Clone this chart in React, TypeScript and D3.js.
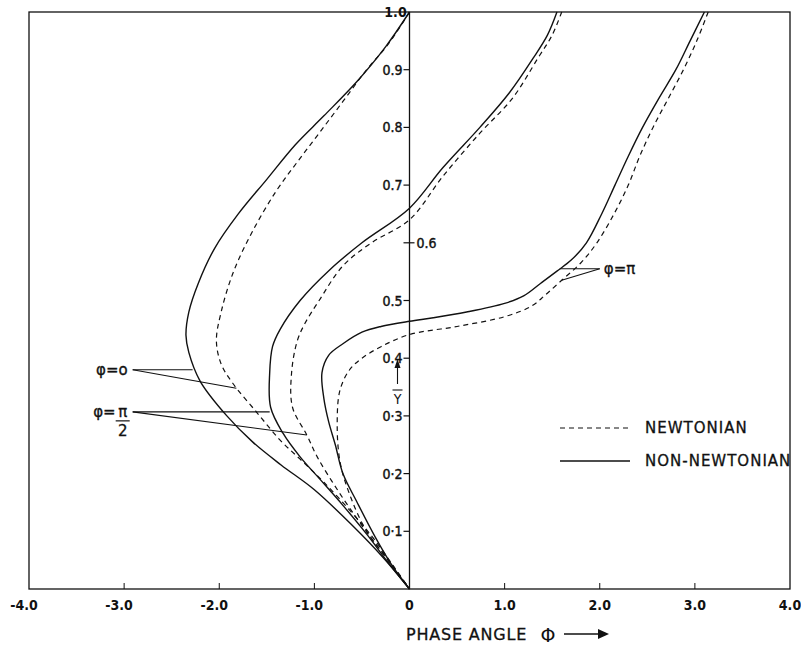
import React, { useEffect, useRef } from "react";
import * as d3 from "d3";

// axis ticks
const xTicks = [-4, -3, -2, -1, 0, 1, 2, 3, 4];
const xTickLabels = ["-4.0", "-3.0", "-2.0", "-1.0", "0", "1.0", "2.0", "3.0", "4.0"];
const yTicks = [0.1, 0.2, 0.3, 0.4, 0.5, 0.6, 0.7, 0.8, 0.9];
const yTickLabels = ["0·1", "0·2", "0·3", "0.4", "0.5", "0.6", "0.7", "0.8", "0.9"];

// phase angle vs Y, [phase, Y]
// phi = 0
const nonNewt0: [number, number][] = [
  [0, 1], [-0.25, 0.94], [-0.55, 0.88], [-0.9, 0.82], [-1.2, 0.77], [-1.5, 0.71],
  [-1.8, 0.65], [-2.05, 0.59], [-2.22, 0.53], [-2.32, 0.48], [-2.35, 0.44], [-2.32, 0.41],
  [-2.2, 0.36], [-1.92, 0.3], [-1.65, 0.255], [-1.35, 0.215], [-1.0, 0.172],
  [-0.6, 0.11], [-0.28, 0.055], [0, 0],
];
const newt0: [number, number][] = [
  [0, 1], [-0.22, 0.945], [-0.45, 0.9], [-0.7, 0.845], [-0.95, 0.79], [-1.18, 0.74],
  [-1.4, 0.69], [-1.65, 0.62], [-1.85, 0.55], [-1.98, 0.48], [-2.03, 0.43], [-1.98, 0.39],
  [-1.86, 0.357], [-1.6, 0.305], [-1.36, 0.258], [-1.15, 0.225], [-0.9, 0.185],
  [-0.62, 0.135], [-0.38, 0.088], [-0.17, 0.04], [0, 0],
];
// phi = pi/2
const nonNewtHalfPi: [number, number][] = [
  [1.55, 1.0], [1.45, 0.96], [1.3, 0.92], [1.05, 0.86], [0.74, 0.8], [0.35, 0.73],
  [0, 0.66], [-0.5, 0.6], [-0.84, 0.553], [-1.15, 0.5], [-1.36, 0.45], [-1.44, 0.42],
  [-1.47, 0.374], [-1.46, 0.315], [-1.33, 0.27], [-1.15, 0.229], [-0.94, 0.19],
  [-0.7, 0.145], [-0.45, 0.095], [-0.22, 0.045], [0, 0],
];
const newtHalfPi: [number, number][] = [
  [1.6, 1.0], [1.5, 0.96], [1.35, 0.92], [1.08, 0.85], [0.74, 0.79], [0.35, 0.715],
  [0, 0.64], [-0.4, 0.6], [-0.7, 0.56], [-0.95, 0.5], [-1.1, 0.46], [-1.18, 0.43],
  [-1.24, 0.374], [-1.23, 0.315], [-1.08, 0.267], [-0.97, 0.229], [-0.75, 0.17],
  [-0.5, 0.11], [-0.25, 0.055], [0, 0],
];
// phi = pi
const nonNewtPi: [number, number][] = [
  [3.1, 1.0], [2.95, 0.95], [2.8, 0.9], [2.62, 0.85], [2.45, 0.8], [2.3, 0.75],
  [2.16, 0.7], [2.02, 0.65], [1.86, 0.6], [1.7, 0.57], [1.55, 0.551],
  [1.38, 0.53], [1.2, 0.508], [1.0, 0.495], [0.6, 0.48], [0.25, 0.47], [0, 0.464],
  [-0.3, 0.455], [-0.5, 0.445], [-0.7, 0.425], [-0.85, 0.405], [-0.92, 0.375],
  [-0.9, 0.33], [-0.85, 0.29], [-0.78, 0.25], [-0.7, 0.2], [-0.55, 0.15],
  [-0.36, 0.09], [-0.18, 0.04], [0, 0],
];
const newtPi: [number, number][] = [
  [3.14, 1.0], [3.02, 0.95], [2.88, 0.9], [2.72, 0.85], [2.56, 0.8], [2.42, 0.75],
  [2.3, 0.7], [2.15, 0.65], [1.97, 0.6], [1.8, 0.565], [1.6, 0.535],
  [1.43, 0.51], [1.28, 0.49], [1.0, 0.472], [0.5, 0.455], [0, 0.441], [-0.3, 0.42],
  [-0.5, 0.4], [-0.63, 0.38], [-0.73, 0.345], [-0.76, 0.29], [-0.73, 0.22],
  [-0.62, 0.16], [-0.45, 0.1], [-0.22, 0.05], [0, 0],
];

// label pointers: tip, end on solid, end on dashed
const pointers0 = [[-2.91, 0.38], [-2.28, 0.38], [-1.82, 0.348]];
const pointersHalfPi = [[-2.91, 0.307], [-1.47, 0.307], [-1.08, 0.267]];
const pointersPi = [[2.0, 0.555], [1.58, 0.555], [1.6, 0.535]];

const W = 801;
const H = 651;
const font = "'DejaVu Sans Condensed', 'DejaVu Sans', sans-serif";
const wideFont = "'DejaVu Sans', sans-serif";

function Chart() {
  const ref = useRef<SVGSVGElement>(null);

  useEffect(() => {
    const svg = d3.select(ref.current);
    svg.selectAll("*").remove();

    const x = d3.scaleLinear().domain([-4, 4]).range([29, 790]);
    const y = d3.scaleLinear().domain([0, 1]).range([589, 12]);

    const g = svg.append("g").attr("fill", "none").attr("stroke", "#111");

    // frame
    g.append("rect")
      .attr("x", x(-4)).attr("y", y(1))
      .attr("width", x(4) - x(-4)).attr("height", y(0) - y(1))
      .attr("stroke-width", 1.3);

    // center axis
    g.append("line")
      .attr("x1", x(0)).attr("x2", x(0))
      .attr("y1", y(0)).attr("y2", y(1))
      .attr("stroke-width", 1.3);

    // bottom ticks
    g.selectAll(".xt").data(xTicks.filter(d => d > -4 && d < 4 && d !== 0)).enter()
      .append("line")
      .attr("x1", d => x(d)).attr("x2", d => x(d))
      .attr("y1", y(0)).attr("y2", y(0) - 6)
      .attr("stroke-width", 1);

    // y ticks on center axis
    g.selectAll(".yt").data(yTicks).enter()
      .append("line")
      .attr("x1", d => (d === 0.6 ? x(0) + 5 : x(0)))
      .attr("x2", x(0) - 6)
      .attr("y1", d => y(d)).attr("y2", d => y(d))
      .attr("stroke-width", 1.2);

    const t = svg.append("g").attr("fill", "#111").attr("font-family", font);

    t.selectAll(".xl").data(xTicks).enter()
      .append("text")
      .attr("x", (d, i) => x(d) - (xTickLabels[i].startsWith("-") ? 5 : 0))
      .attr("y", 610)
      .attr("text-anchor", "middle")
      .attr("font-size", 14)
      .attr("font-weight", "bold")
      .text((d, i) => xTickLabels[i]);

    t.selectAll(".yl").data(yTicks).enter()
      .append("text")
      .attr("x", d => (d === 0.6 ? x(0) + 7 : x(0) - 7))
      .attr("y", d => y(d) + 5)
      .attr("text-anchor", d => (d === 0.6 ? "start" : "end"))
      .attr("font-size", 14)
      .attr("stroke", "#111").attr("stroke-width", 0.4)
      .text((d, i) => yTickLabels[i]);

    t.append("text")
      .attr("x", x(0) - 14).attr("y", y(1) + 5)
      .attr("text-anchor", "middle")
      .attr("font-size", 14).attr("font-weight", "bold")
      .text("1.0");

    // curves
    const line = d3.line<[number, number]>()
      .x(d => x(d[0]))
      .y(d => y(d[1]))
      .curve(d3.curveCatmullRom.alpha(0.5));

    const solids = [nonNewt0, nonNewtHalfPi, nonNewtPi];
    const dashes = [newt0, newtHalfPi, newtPi];

    g.selectAll(".solid").data(solids).enter()
      .append("path")
      .attr("d", d => line(d))
      .attr("stroke-width", 1.4);

    g.selectAll(".dash").data(dashes).enter()
      .append("path")
      .attr("d", d => line(d))
      .attr("stroke-width", 1.2)
      .attr("stroke-dasharray", "5,4");

    // pointers
    [pointers0, pointersHalfPi, pointersPi].forEach(p => {
      const [tip, a, b] = p;
      [a, b].forEach(e => {
        g.append("line")
          .attr("x1", x(tip[0])).attr("y1", y(tip[1]))
          .attr("x2", x(e[0])).attr("y2", y(e[1]))
          .attr("stroke-width", 1.1);
      });
    });

    // pointer labels
    const lab = t.append("g").attr("font-family", wideFont).attr("font-size", 15)
      .attr("stroke", "#111").attr("stroke-width", 0.3);

    lab.append("text")
      .attr("x", x(-2.91) - 5).attr("y", y(0.38) + 5)
      .attr("text-anchor", "end")
      .text("φ=o");

    lab.append("text")
      .attr("x", x(-2.91) - 17).attr("y", y(0.307) + 5)
      .attr("text-anchor", "end")
      .text("φ=");
    lab.append("text")
      .attr("x", x(-2.91) - 10).attr("y", y(0.307) + 5)
      .attr("text-anchor", "middle")
      .text("π");
    g.append("line")
      .attr("x1", x(-2.91) - 17).attr("x2", x(-2.91) - 3)
      .attr("y1", y(0.307) + 9).attr("y2", y(0.307) + 9)
      .attr("stroke-width", 1.2);
    lab.append("text")
      .attr("x", x(-2.91) - 10).attr("y", y(0.307) + 24)
      .attr("text-anchor", "middle")
      .text("2");

    lab.append("text")
      .attr("x", x(2.0) + 4).attr("y", y(0.555) + 5)
      .attr("text-anchor", "start")
      .text("φ=π");

    // Y bar label with arrow
    const yx = x(0) - 12;
    g.append("line")
      .attr("x1", yx).attr("x2", yx)
      .attr("y1", 384).attr("y2", 364)
      .attr("stroke-width", 1.1);
    t.append("path")
      .attr("d", `M${yx - 3},${368} L${yx},${359} L${yx + 3},${368} Z`);
    g.append("line")
      .attr("x1", yx - 5).attr("x2", yx + 5)
      .attr("y1", 390).attr("y2", 390)
      .attr("stroke-width", 1.1);
    t.append("text")
      .attr("x", yx).attr("y", 404)
      .attr("text-anchor", "middle").attr("font-size", 14)
      .text("Y");

    // legend
    g.append("line")
      .attr("x1", 560).attr("x2", 630).attr("y1", 428).attr("y2", 428)
      .attr("stroke-width", 1.2).attr("stroke-dasharray", "5,4");
    g.append("line")
      .attr("x1", 560).attr("x2", 630).attr("y1", 461).attr("y2", 461)
      .attr("stroke-width", 1.4);
    const leg = t.append("g").attr("font-family", wideFont).attr("font-size", 15)
      .attr("letter-spacing", 1).attr("stroke", "#111").attr("stroke-width", 0.3);
    leg.append("text").attr("x", 645).attr("y", 433).text("NEWTONIAN");
    leg.append("text").attr("x", 645).attr("y", 466).text("NON-NEWTONIAN");

    // x axis title
    t.append("text")
      .attr("x", 406).attr("y", 640)
      .attr("font-family", wideFont)
      .attr("font-size", 16)
      .attr("letter-spacing", 0.8)
      .attr("stroke", "#111").attr("stroke-width", 0.3)
      .text("PHASE  ANGLE");
    t.append("text")
      .attr("x", 548).attr("y", 642)
      .attr("text-anchor", "middle")
      .attr("font-family", wideFont)
      .attr("font-size", 19)
      .text("Φ");
    g.append("line")
      .attr("x1", 564).attr("x2", 600).attr("y1", 634).attr("y2", 634)
      .attr("stroke-width", 1.6);
    t.append("path").attr("d", "M598,629 L609,634 L598,639 Z");
  }, []);

  return (
    <svg
      ref={ref}
      width={W}
      height={H}
      style={{ position: "absolute", left: 0, top: 0, background: "#fff" }}
    />
  );
}

export default function App() {
  return <Chart />;
}
